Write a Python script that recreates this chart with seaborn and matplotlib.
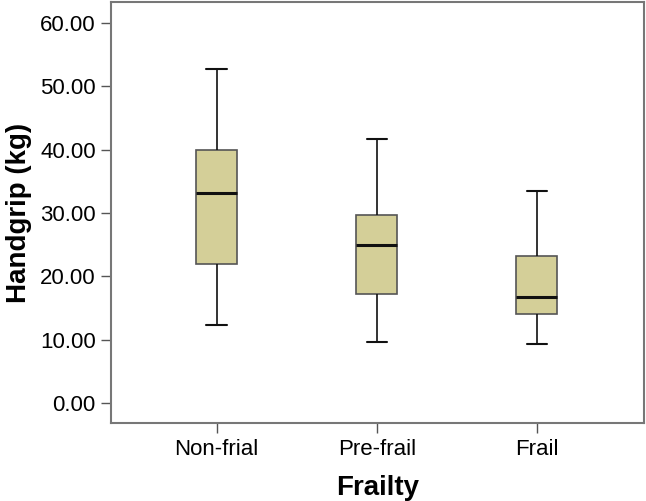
import matplotlib
matplotlib.use("Agg")
import matplotlib.pyplot as plt
import seaborn as sns
import pandas as pd

categories = ["Non-frial", "Pre-frail", "Frail"]
whislo = [12.3, 9.6, 9.4]
q1 = [22.0, 17.2, 14.0]
median = [33.2, 24.9, 16.7]
q3 = [40.0, 29.7, 23.2]
whishi = [52.8, 41.7, 33.5]
yticks = [0, 10, 20, 30, 40, 50, 60]

sns.set_theme(style="white")
plt.rcParams['font.family'] = ['Liberation Sans', 'DejaVu Sans']

# Build a small dataset per group whose quartiles/whiskers reproduce the summary
rows = []
for c, lo, a, m, b, hi in zip(categories, whislo, q1, median, q3, whishi):
    vals = [lo, a, a, m, b, b, hi]
    for v in vals:
        rows.append({"Frailty": c, "Handgrip": v})
df = pd.DataFrame(rows)

fig = plt.figure(figsize=(6.46, 5.01), dpi=100)
ax = fig.add_axes([0.1718, 0.1547, 0.8251, 0.8413])

sns.boxplot(data=df, x="Frailty", y="Handgrip", order=categories, ax=ax,
            width=0.254, color="#D4CF98", whis=10, fliersize=0,
            boxprops=dict(edgecolor="#555555", linewidth=1.2),
            whiskerprops=dict(color="#111111", linewidth=1.2),
            capprops=dict(color="#111111", linewidth=1.5),
            medianprops=dict(color="#111111", linewidth=2.2),
            saturation=1)

ax.set_xlim(-0.66, 2.67)
ax.set_ylim(-3.2, 63.3)
ax.set_yticks(yticks)
ax.set_yticklabels([f"{v:.2f}" for v in yticks])
ax.tick_params(axis="both", which="both", direction="out", length=7, width=1,
               color="#555555", labelsize=16, labelcolor="#000000", pad=4,
               left=True, bottom=True)
for s in ax.spines.values():
    s.set_color("#777777")
    s.set_linewidth(1.5)
ax.set_xlabel("Frailty", fontsize=20, fontweight="bold", labelpad=11, color="#000000")
ax.set_ylabel("Handgrip (kg)", fontsize=20, fontweight="bold", labelpad=6, color="#000000")

fig.savefig("out.png", dpi=100)
